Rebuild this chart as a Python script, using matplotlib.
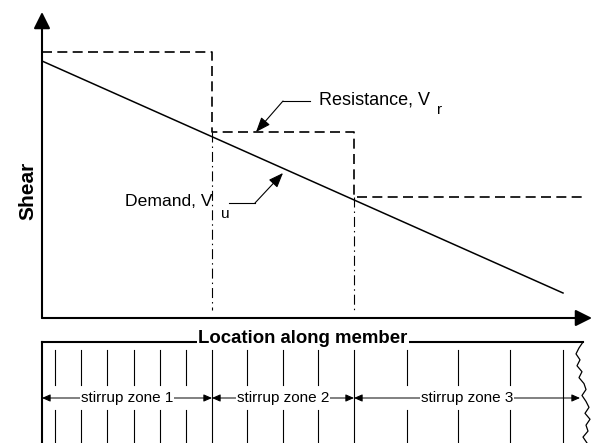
import matplotlib
matplotlib.use("Agg")
import matplotlib.pyplot as plt

plt.rcParams["font.family"] = ["Liberation Sans", "DejaVu Sans"]

# 데이터 (위치 단위: 부재 시작점 기준, 전단 단위: 임의)
zone_bounds = [0, 170, 312, 538]
zone_labels = ["stirrup zone 1", "stirrup zone 2", "stirrup zone 3"]
resist_x = [0, 170, 170, 312, 312, 541]
resist_y = [266, 266, 186, 186, 121, 121]
demand_x = [0, 521]
demand_y = [257, 25]
stirrups_gap = [13, 39, 65, 92, 118, 144, 205, 241, 276, 365, 416, 468]
stirrups_full = [170, 312, 521]
wave_dx = [0, -4, -7, -3, -6, -1, -4, 1, 3, -1, 3, 6, 2, 7, 3, 5, 0, 4]

W, H = 592, 443
fig = plt.figure(figsize=(W / 100, H / 100), dpi=100)

# 1. 전단 그래프
ax = fig.add_axes([42 / W, (H - 318) / H, 550 / W, 306 / H])
ax.set_xlim(0, 550)
ax.set_ylim(0, 306)
ax.axis("off")

head = "-|>,head_length=1.0,head_width=0.5"
ax.annotate("", xy=(0, 306), xytext=(0, 0), annotation_clip=False,
            arrowprops=dict(arrowstyle=head, lw=1.5, color="k", fc="k",
                            shrinkA=0, shrinkB=0, mutation_scale=10))
ax.annotate("", xy=(550, 0), xytext=(0, 0), annotation_clip=False,
            arrowprops=dict(arrowstyle=head, lw=1.5, color="k", fc="k",
                            shrinkA=0, shrinkB=0, mutation_scale=10))

ax.plot(resist_x, resist_y, color="k", lw=1.2, ls=(0, (6, 3.2)), clip_on=False)
ax.plot(demand_x, demand_y, color="k", lw=1.1, clip_on=False)

# 구간 경계 (일점쇄선)
ax.plot([170, 170], [186, 8], color="k", lw=0.8, ls=(0, (9, 3.6, 1.3, 3.6)))
ax.plot([312, 312], [121, 8], color="k", lw=0.8, ls=(0, (9, 3.6, 1.3, 3.6)))

# 라벨 + 지시선
small = "-|>,head_length=0.9,head_width=0.35"
ax.plot([268, 241], [217, 217], color="k", lw=0.8)
ax.annotate("", xy=(214, 186), xytext=(241, 217),
            arrowprops=dict(arrowstyle=small, lw=0.8, color="k", fc="k",
                            shrinkA=0, shrinkB=0, mutation_scale=10))
ax.text(277, 218, "Resistance, V", fontsize=13, va="center", ha="left")
ax.text(395, 208, "r", fontsize=11, va="center", ha="left")

ax.plot([187, 213], [115, 115], color="k", lw=0.8)
ax.annotate("", xy=(241, 145), xytext=(213, 115),
            arrowprops=dict(arrowstyle=small, lw=0.8, color="k", fc="k",
                            shrinkA=0, shrinkB=0, mutation_scale=10))
ax.text(83, 116, "Demand, V", fontsize=12.6, va="center", ha="left")
ax.text(179, 104, "u", fontsize=11, va="center", ha="left")

ax.text(-14, 127, "Shear", fontsize=15, fontweight="bold", rotation=90,
        va="center", ha="center")

# 2. 스터럽 배치도
ax2 = fig.add_axes([42 / W, 0, 550 / W, 101 / H])
ax2.set_xlim(0, 550)
ax2.set_ylim(101, 0)
ax2.axis("off")

ax2.plot([0, 541], [0, 0], color="k", lw=1.5, clip_on=False)
ax2.plot([0, 0], [0, 101], color="k", lw=1.5, clip_on=False)
ax2.text(261, 1, "Location along member", fontsize=13.4, fontweight="bold",
         ha="center", va="baseline",
         bbox=dict(fc="white", ec="none", pad=1))

for s in stirrups_gap:
    ax2.plot([s, s], [8, 43], color="k", lw=0.8)
    ax2.plot([s, s], [68, 101], color="k", lw=0.8)
for s in stirrups_full:
    ax2.plot([s, s], [8, 101], color="k", lw=0.8)

wave_y = [i * 101 / (len(wave_dx) - 1) for i in range(len(wave_dx))]
ax2.plot([541 + d for d in wave_dx], wave_y, color="k", lw=0.9, clip_on=False)

dim = "<|-|>,head_length=0.5,head_width=0.22"
for i, lab in enumerate(zone_labels):
    a, b = zone_bounds[i], zone_bounds[i + 1]
    ax2.annotate("", xy=(b, 56), xytext=(a, 56),
                 arrowprops=dict(arrowstyle=dim, lw=0.7, color="k", fc="k",
                                 shrinkA=0, shrinkB=0, mutation_scale=10))
    ax2.text((a + b) / 2, 56, lab, fontsize=11, ha="center", va="center",
             bbox=dict(fc="white", ec="none", pad=0.5))

fig.savefig("out.png", dpi=100)
